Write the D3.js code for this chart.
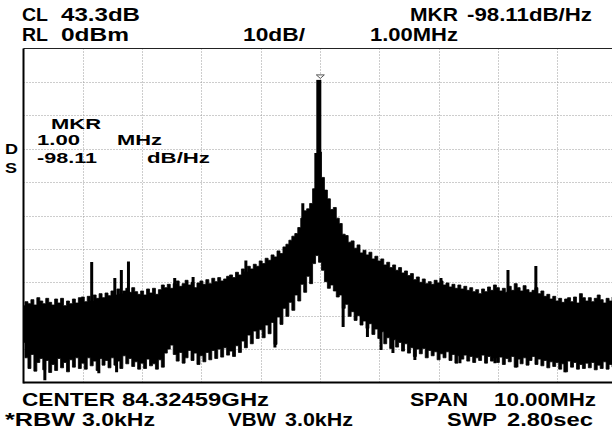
<!DOCTYPE html>
<html>
<head>
<meta charset="utf-8">
<script src="https://cdn.jsdelivr.net/npm/d3@7"></script>
<style>
  body { margin: 0; background: #fff; }
  svg { display: block; }
  text { font-family: "Liberation Sans", Arial, sans-serif; font-weight: bold; fill: #000; }
</style>
</head>
<body>
<svg id="chart" width="612" height="431"></svg>
<script>
// sweep: offset from centre frequency, MHz (span 10 MHz), 0.05 MHz per point
const freqMHz = d3.range(-100, 101).map(i => i / 20);

// upper edge of the noisy trace, dB below reference level
const traceTop = [
  -77.0, -75.8, -76.4, -75.2, -76.8, -74.6, -75.6, -76.4, -74.8, -76.0,
  -76.8, -75.0, -76.2, -74.8, -77.0, -75.6, -76.4, -75.0, -76.2, -74.6,
  -74.4, -75.8, -74.2, -75.6, -73.8, -74.8, -73.4, -74.6, -73.2, -74.0,
  -72.6, -73.8, -72.0, -73.4, -72.6, -71.8, -73.0, -71.6, -72.8, -73.6,
  -72.6, -73.8, -72.0, -73.2, -71.8, -73.6, -72.2, -70.8, -71.6, -70.6,
  -71.8, -70.4, -69.6, -71.2, -70.4, -69.4, -70.8, -70.0, -71.6, -70.2,
  -69.6, -70.6, -69.2, -70.4, -68.8, -69.8, -68.6, -69.6, -69.0, -68.2,
  -67.8, -68.6, -67.0, -67.8, -66.0, -66.8, -65.2, -66.0, -64.6, -65.2,
  -63.6, -64.4, -62.8, -63.4, -61.8, -62.4, -60.6, -61.4, -59.4, -58.6,
  -57.4, -56.2, -55.4, -53.6, -50.8, -48.6, -48.0, -46.4, -42.0, -37.0,
  -31.0,
  -38.6, -42.4, -45.0, -48.2, -47.6, -50.8, -52.4, -55.6, -56.0, -58.0,
  -57.6, -59.8, -58.8, -61.2, -60.4, -61.8, -61.0, -63.0, -62.2, -63.6,
  -63.0, -64.8, -64.0, -65.6, -64.8, -66.4, -65.6, -67.2, -66.6, -68.0,
  -67.4, -69.2, -68.4, -70.0, -69.0, -70.4, -69.8, -70.6, -69.4, -70.2,
  -69.6, -70.8, -70.2, -71.4, -70.6, -71.8, -70.8, -72.0, -71.2, -72.4,
  -71.6, -72.8, -72.2, -73.4, -72.0, -72.8, -71.4, -72.4, -70.8, -71.6,
  -72.6, -71.8, -73.0, -71.2, -72.4, -70.4, -71.6, -72.6, -71.0, -72.2,
  -73.0, -72.4, -71.6, -73.4, -72.6, -74.2, -73.6, -75.0, -74.2, -75.6,
  -74.8, -76.0, -75.0, -74.6, -75.8, -74.4, -76.2, -73.4, -74.6, -75.6,
  -74.6, -75.8, -74.8, -73.8, -75.2, -76.2, -74.8, -75.6, -74.4, -76.0
];

// lower edge of the noisy trace
const traceBottom = [
  -88.0, -92.6, -95.8, -91.6, -96.6, -94.0, -92.8, -96.2, -93.4, -97.0,
  -94.6, -96.4, -92.8, -95.6, -94.0, -96.8, -93.2, -95.4, -92.6, -95.8,
  -94.2, -96.0, -92.6, -95.0, -93.6, -96.4, -92.8, -94.8, -93.4, -95.6,
  -92.6, -94.8, -93.6, -95.8, -92.0, -94.4, -92.8, -95.2, -93.8, -96.0,
  -94.2, -95.8, -93.0, -95.0, -94.4, -96.0, -93.2, -95.4, -91.2, -90.0,
  -88.8, -91.6, -93.6, -91.0, -94.2, -92.6, -90.4, -93.4, -91.2, -94.6,
  -92.0, -93.8, -91.0, -93.2, -90.4, -92.8, -90.0, -92.4, -89.6, -91.8,
  -90.6, -92.2, -89.0, -91.0, -87.6, -89.6, -85.8, -88.4, -84.6, -86.8,
  -84.2, -86.6, -82.8, -85.4, -82.0, -88.6, -80.4, -82.6, -77.8, -80.2,
  -76.0, -78.4, -73.8, -75.6, -70.6, -73.0, -68.2, -70.4, -64.4, -62.0,
  -64.0,
  -66.4, -69.8, -71.8, -70.8, -72.6, -74.4, -73.8, -77.8, -76.6, -80.2,
  -78.8, -81.4, -80.0, -82.8, -81.6, -83.8, -82.4, -85.6, -84.0, -86.8,
  -84.8, -88.4, -86.6, -89.8, -87.2, -89.4, -88.0, -90.6, -88.4, -91.2,
  -89.6, -92.2, -90.0, -91.4, -89.8, -92.6, -90.4, -92.0, -90.8, -93.2,
  -91.4, -92.6, -90.8, -93.4, -91.6, -94.2, -92.0, -93.0, -91.8, -93.6,
  -92.2, -94.0, -92.6, -93.4, -91.8, -94.2, -92.2, -93.6, -92.8, -94.0,
  -92.4, -94.6, -92.8, -93.8, -92.2, -95.4, -93.0, -94.4, -92.6, -94.8,
  -93.4, -92.2, -94.6, -93.0, -95.0, -93.4, -95.6, -93.8, -95.2, -94.0,
  -96.0, -94.4, -96.8, -93.6, -95.4, -94.0, -96.0, -94.6, -95.8, -94.2,
  -95.6, -94.0, -96.2, -94.8, -95.8, -93.8, -96.0, -94.6, -95.4, -94.8
];

// narrow spikes above the trace: [MHz, dB]
const spikes = [
  [-3.85, -63.9], [-3.46, -68.7], [-3.35, -66.3], [-3.23, -63.8],
  [-2.45, -68.7], [-2.14, -68.4], [-1.25, -63.5], [-0.29, -46.3],
  [-0.07, -31.3], [2.04, -68.7], [3.17, -66.3], [3.64, -65.1]
];

// narrow dips below the trace: [MHz, dB]
const dips = [
  [-4.64, -99.3], [-3.73, -97.2], [-3.43, -96.9], [-0.76, -89.5],
  [0.39, -83.4], [0.80, -86.4], [1.03, -90.3], [1.23, -91.2],
  [1.60, -93.3], [2.36, -94.2], [2.95, -94.2], [3.32, -95.4], [4.13, -96.9]
];

// carrier
const carrierFreq = -0.02;
const carrierLevel = -9.4;

const headerRow1 = ["CL", "43.3dB", "MKR", "-98.11dB/Hz"];
const headerRow2 = ["RL", "0dBm", "10dB/", "1.00MHz"];
const footerRow1 = ["CENTER", "84.32459GHz", "SPAN", "10.00MHz"];
const footerRow2 = ["*RBW", "3.0kHz", "VBW", "3.0kHz", "SWP", "2.80sec"];
const markerText = ["MKR", "1.00", "MHz", "-98.11", "dB/Hz"];

const svg = d3.select("#chart");
const plot = { left: 23.5, top: 48.5, div: 59.3, bottom: 382.5 };

const x = d3.scaleLinear().domain([-5, 5]).range([plot.left, plot.left + 10 * plot.div]);
const y = d3.scaleLinear().domain([0, -100]).range([plot.top, plot.bottom]);

svg.append("rect").attr("width", 612).attr("height", 431).attr("fill", "#fff");

svg.append("defs").append("clipPath").attr("id", "clip")
  .append("rect")
  .attr("x", plot.left).attr("y", plot.top)
  .attr("width", 10 * plot.div).attr("height", plot.bottom - plot.top);

// graticule
const grid = svg.append("g").attr("stroke", "#9a9a9a").attr("stroke-width", 1)
  .attr("stroke-dasharray", "1,2");
grid.selectAll(".vx").data(d3.range(-4, 5)).enter().append("line")
  .attr("x1", d => Math.round(x(d)) + 0.5).attr("x2", d => Math.round(x(d)) + 0.5)
  .attr("y1", plot.top).attr("y2", plot.bottom);
grid.selectAll(".hy").data(d3.range(-10, -100, -10)).enter().append("line")
  .attr("x1", plot.left).attr("x2", 612)
  .attr("y1", d => Math.round(y(d)) + 0.5).attr("y2", d => Math.round(y(d)) + 0.5);

// trace
const tr = svg.append("g").attr("clip-path", "url(#clip)");

const band = d3.area()
  .x((d, i) => x(freqMHz[i]))
  .y0((d, i) => y(traceBottom[i]))
  .y1(d => y(d))
  .curve(d3.curveStep);

tr.append("path")
  .datum(traceTop)
  .attr("d", band)
  .attr("fill", "#000")
  .attr("stroke", "#000")
  .attr("stroke-width", 0.8);

const nearest = f => d3.minIndex(freqMHz, v => Math.abs(v - f));
const mid = f => { const i = nearest(f); return (traceTop[i] + traceBottom[i]) / 2; };

tr.selectAll(".spike").data(spikes).enter().append("line")
  .attr("x1", d => x(d[0])).attr("x2", d => x(d[0]))
  .attr("y1", d => y(d[1])).attr("y2", d => y(mid(d[0])))
  .attr("stroke", "#000").attr("stroke-width", 3);

tr.selectAll(".dip").data(dips).enter().append("line")
  .attr("x1", d => x(d[0])).attr("x2", d => x(d[0]))
  .attr("y1", d => y(mid(d[0]))).attr("y2", d => y(d[1]))
  .attr("stroke", "#000").attr("stroke-width", 3);

// carrier peak
tr.append("rect")
  .attr("x", x(carrierFreq) - 2.5).attr("width", 5)
  .attr("y", y(carrierLevel))
  .attr("height", y(mid(carrierFreq)) - y(carrierLevel))
  .attr("fill", "#000");

// marker triangle
const mx = x(carrierFreq) + 1.5, my = y(carrierLevel) - 1.5;
svg.append("path")
  .attr("d", `M${mx - 4},${my - 3.5}L${mx + 4},${my - 3.5}L${mx},${my}Z`)
  .attr("fill", "#fff").attr("stroke", "#555").attr("stroke-width", 1);

// frame
svg.append("line").attr("x1", plot.left).attr("x2", 612)
  .attr("y1", plot.top).attr("y2", plot.top).attr("stroke", "#222").attr("stroke-width", 1);
svg.append("line").attr("x1", plot.left).attr("x2", plot.left)
  .attr("y1", plot.top).attr("y2", plot.bottom + 1).attr("stroke", "#000").attr("stroke-width", 2);
svg.append("line").attr("x1", plot.left).attr("x2", 612)
  .attr("y1", plot.bottom).attr("y2", plot.bottom).attr("stroke", "#000").attr("stroke-width", 2);

// text, stretched wide like the instrument font
function label(t, tx, ty, w, size = 17.5) {
  svg.append("text")
    .attr("x", tx).attr("y", ty)
    .attr("font-size", size)
    .attr("textLength", w)
    .attr("lengthAdjust", "spacingAndGlyphs")
    .text(t);
}

label(headerRow1[0], 22, 21, 26);
label(headerRow1[1], 61, 21, 79);
label(headerRow1[2], 410, 21, 48);
label(headerRow1[3], 467, 21, 125);
label(headerRow2[0], 22, 40.5, 26);
label(headerRow2[1], 61, 40.5, 68);
label(headerRow2[2], 243, 40.5, 62);
label(headerRow2[3], 370, 40.5, 88);

label(footerRow1[0], 22, 406, 93);
label(footerRow1[1], 122, 406, 147);
label(footerRow1[2], 410, 406, 58);
label(footerRow1[3], 494, 406, 102);
label(footerRow2[0], 5, 425.5, 70);
label(footerRow2[1], 82, 425.5, 73);
label(footerRow2[2], 228, 425.5, 48);
label(footerRow2[3], 285, 425.5, 68);
label(footerRow2[4], 447, 425.5, 50);
label(footerRow2[5], 507, 425.5, 86);

label(markerText[0], 51, 128.5, 50, 14);
label(markerText[1], 37, 144.5, 43, 14);
label(markerText[2], 117, 144.5, 45, 14);
label(markerText[3], 37, 162.5, 60, 14);
label(markerText[4], 147, 162.5, 63, 14);
label("D", 5, 154, 13, 15);
label("S", 5, 172.5, 12, 15);
</script>
</body>
</html>
